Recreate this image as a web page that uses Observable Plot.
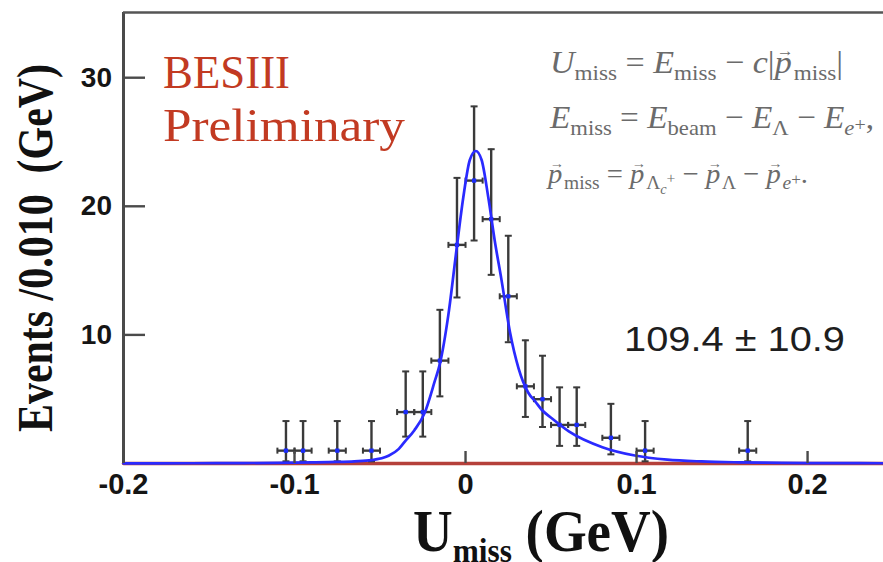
<!DOCTYPE html>
<html>
<head>
<meta charset="utf-8">
<script src="https://cdn.jsdelivr.net/npm/d3@7"></script>
<script src="https://cdn.jsdelivr.net/npm/@observablehq/plot@0.6"></script>
<style>
  html, body { margin: 0; padding: 0; background: #fff; }
  #chart { width: 883px; height: 562px; overflow: hidden; }
</style>
</head>
<body>
<div id="chart"></div>
<script>
// Binned U_miss distribution (bin width 0.010 GeV): bin centres and event counts
const binCenters = [-0.105, -0.095, -0.075, -0.055, -0.035, -0.025, -0.015, -0.005, 0.005,
                    0.015, 0.025, 0.035, 0.045, 0.055, 0.065, 0.085, 0.105, 0.165];
const counts     = [1, 1, 1, 1, 4, 4, 8, 17, 22, 19, 13, 6, 5, 3, 3, 2, 1, 1];
// Asymmetric (Poisson) error bar ends for each bin
const errLow  = [0.17, 0.17, 0.17, 0.17, 2.09, 2.09, 5.22, 12.91, 17.34, 14.67, 9.43, 3.62, 2.84, 1.37, 1.37, 0.71, 0.17, 0.17];
const errHigh = [3.30, 3.30, 3.30, 3.30, 7.16, 7.16, 11.95, 22.21, 27.77, 24.44, 17.71, 9.58, 8.38, 5.92, 5.92, 4.64, 3.30, 3.30];
const binWidth = 0.01;

// Fitted signal shape (events per bin)
const fitX = [-0.200, -0.160, -0.130, -0.110, -0.090, -0.075, -0.065, -0.055, -0.045, -0.039,
              -0.0355, -0.030, -0.024, -0.018, -0.015, -0.010, -0.0053, -0.0013, 0.0025, 0.006,
              0.0094, 0.0133, 0.0171, 0.021, 0.026, 0.031, 0.0367, 0.0409, 0.0444, 0.0506,
              0.0604, 0.080, 0.099, 0.118, 0.138, 0.160, 0.185, 0.215, 0.2444];
const fitY = [0.01, 0.02, 0.03, 0.05, 0.08, 0.12, 0.17, 0.26, 0.60, 1.14,
              1.70, 2.57, 3.90, 6.40, 7.75, 11.6, 16.6, 20.7, 23.6, 24.3,
              23.6, 20.7, 17.3, 14.3, 10.2, 7.4, 5.5, 4.8, 4.2, 3.5,
              2.5, 1.27, 0.62, 0.30, 0.16, 0.09, 0.05, 0.03, 0.02];
// Background component (flat at zero)
const bkgX = [-0.2, 0.2444];
const bkgY = [0, 0];

// Axes
const xTicks = [-0.2, -0.1, 0, 0.1, 0.2];
const xTickLabels = ["-0.2", "-0.1", "0", "0.1", "0.2"];
const yTicks = [10, 20, 30];
const yTickLabels = ["10", "20", "30"];
const xDomain = [-0.2, 0.2444];
const yDomain = [0, 35.07];

const yieldText = "109.4 \u00B1 10.9";

const points = binCenters.map((x, i) => ({
  x, n: counts[i], lo: errLow[i], hi: errHigh[i],
  x1: x - binWidth / 2, x2: x + binWidth / 2
}));
const fit = fitX.map((x, i) => ({x, y: fitY[i]}));
const bkg = bkgX.map((x, i) => ({x, y: bkgY[i]}));

// short horizontal / vertical end caps for the error bars
const hCap = {draw(ctx, size) { const r = Math.sqrt(size / Math.PI); ctx.moveTo(-r, 0); ctx.lineTo(r, 0); }};
const vCap = {draw(ctx, size) { const r = Math.sqrt(size / Math.PI); ctx.moveTo(0, -r); ctx.lineTo(0, r); }};

const barColor = "#3a3a3a";
const axisColor = "#4a4a4a";
const sans = "'Liberation Sans', Arial, Helvetica, sans-serif";
const serif = "'Liberation Serif', 'Times New Roman', Times, serif";

const plot = Plot.plot({
  width: 883,
  height: 562,
  marginLeft: 123,
  marginRight: 0,
  marginTop: 12,
  marginBottom: 99,
  x: {domain: xDomain, label: null},
  y: {domain: yDomain, label: null},
  style: {background: "transparent", overflow: "hidden"},
  marks: [
    Plot.line(bkg, {x: "x", y: "y", stroke: "#b5403a", strokeWidth: 3.4}),
    Plot.ruleX(points, {x: "x", y1: "lo", y2: "hi", stroke: barColor, strokeWidth: 2.4}),
    Plot.ruleY(points, {y: "n", x1: "x1", x2: "x2", stroke: barColor, strokeWidth: 2.4}),
    Plot.dot(points, {x: "x", y: "hi", symbol: hCap, r: 3.5, stroke: barColor, strokeWidth: 2}),
    Plot.dot(points, {x: "x", y: "lo", symbol: hCap, r: 3.5, stroke: barColor, strokeWidth: 2}),
    Plot.dot(points, {x: "x1", y: "n", symbol: vCap, r: 3, stroke: barColor, strokeWidth: 2}),
    Plot.dot(points, {x: "x2", y: "n", symbol: vCap, r: 3, stroke: barColor, strokeWidth: 2}),
    Plot.dot(points, {x: "x", y: "n", symbol: "square", r: 2.4, fill: "#1a2cff"}),
    Plot.line(fit, {x: "x", y: "y", stroke: "#2a2aff", strokeWidth: 2.7, curve: "monotone-x"}),
    Plot.ruleX([xDomain[0]], {stroke: axisColor, strokeWidth: 3}),
    Plot.ruleY([yDomain[1]], {stroke: "#555", strokeWidth: 2.4}),
    Plot.axisY({
      ticks: yTicks,
      tickFormat: d => yTickLabels[yTicks.indexOf(d)],
      tickSize: -22,
      tickPadding: 33.5,
      stroke: axisColor,
      strokeWidth: 2.4,
      fill: "#151515",
      fontSize: 28,
      fontWeight: "bold",
      fontFamily: sans,
      label: null
    }),
    Plot.axisX({
      ticks: xTicks,
      tickFormat: d => xTickLabels[xTicks.indexOf(d)],
      tickSize: -12,
      tickPadding: 22,
      stroke: axisColor,
      strokeWidth: 2.4,
      fill: "#151515",
      fontSize: 29,
      fontWeight: "bold",
      fontFamily: sans,
      label: null
    })
  ]
});

document.getElementById("chart").appendChild(plot);

// Rich text helper: tspans for italics, subscripts, superscripts and accents
const svg = d3.select(plot);
function richText(opts, parts) {
  const t = svg.append("text")
    .attr("x", opts.x).attr("y", opts.y)
    .attr("font-family", opts.family)
    .attr("font-size", opts.size)
    .attr("font-weight", opts.weight || "normal")
    .attr("fill", opts.fill)
    .attr("text-anchor", opts.anchor || "start")
    .style("white-space", "pre");
  if (opts.transform) t.attr("transform", opts.transform);
  let cur = 0;
  for (const p of parts) {
    const shift = p.shift || 0;
    const ts = t.append("tspan").text(p.t).attr("dy", shift - cur);
    cur = shift;
    if (p.dx) ts.attr("dx", p.dx);
    if (p.scale) ts.attr("font-size", opts.size * p.scale);
    if (p.italic) ts.attr("font-style", "italic");
    if (p.family) ts.attr("font-family", p.family);
  }
  if (opts.length) t.attr("textLength", opts.length).attr("lengthAdjust", "spacingAndGlyphs");
  return t;
}

const sub = (t, extra = {}) => ({t, scale: 0.68, shift: 7, ...extra});
const op = t => ({t});
const it = t => ({t, italic: true});
// italic p with a small arrow set above it
const vec = size => [it("p"), {t: "\u2192", scale: 0.5, shift: -0.52 * size, dx: -0.44 * size}];

// Axis titles
richText({x: 0, y: 0, transform: "translate(52,432) rotate(-90) scale(1,1.2)",
          family: serif, size: 42, weight: "bold", fill: "#111", length: 368},
         [{t: "Events /0.010  (GeV)"}]);
richText({x: 413, y: 551, family: serif, size: 60, weight: "bold", fill: "#111", length: 256},
         [{t: "U"}, {t: "miss", scale: 0.57, shift: 11}, {t: " (GeV)", shift: 0}]);

// Experiment label
richText({x: 163, y: 88, family: serif, size: 46, fill: "#c23a22", length: 127}, [{t: "BESIII"}]);
richText({x: 163, y: 141, family: serif, size: 46, fill: "#c23a22", length: 242}, [{t: "Preliminary"}]);

// Definitions of the kinematic variables
const fColor = "#6b6b6b";
richText({x: 550, y: 73, family: serif, size: 32, fill: fColor, length: 293}, [
  it("U"), sub("miss"), op(" = "), it("E"), sub("miss"), op(" \u2212 "), it("c"),
  op("|"), ...vec(32), sub("miss"), op("|")
]);
richText({x: 550, y: 128, family: serif, size: 32, fill: fColor, length: 324}, [
  it("E"), sub("miss"), op(" = "), it("E"), sub("beam"), op(" \u2212 "), it("E"), sub("\u039B"),
  op(" \u2212 "), it("E"), sub("e", {italic: true}), {t: "+", scale: 0.6, shift: 3}, op(",")
]);
richText({x: 548, y: 183, family: serif, size: 28, fill: fColor, length: 260}, [
  ...vec(28), sub("miss", {shift: 6}), op(" = "), ...vec(28), sub("\u039B", {shift: 6}),
  {t: "c", italic: true, scale: 0.5, shift: 11}, {t: "+", scale: 0.55, shift: 0},
  op(" \u2212 "), ...vec(28), sub("\u039B", {shift: 6}), op(" \u2212 "),
  ...vec(28), sub("e", {italic: true, shift: 6}), {t: "+", scale: 0.6, shift: 2}, op(".")
]);

// Fitted signal yield
richText({x: 624, y: 351, family: sans, size: 35, fill: "#1e1e1e", length: 221}, [{t: yieldText}]);
</script>
</body>
</html>
